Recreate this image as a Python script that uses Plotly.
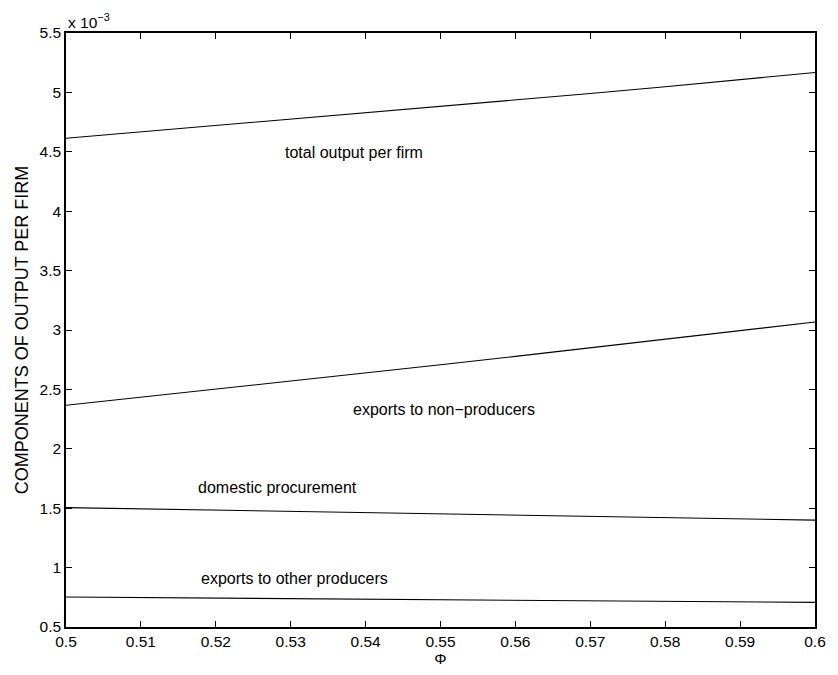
import plotly.graph_objects as go

# Phi values
phi = [0.50, 0.51, 0.52, 0.53, 0.54, 0.55, 0.56, 0.57, 0.58, 0.59, 0.60]

# Components of output per firm (units of 1e-3)
total_output = [4.614, 4.667, 4.720, 4.773, 4.826, 4.880, 4.935, 4.991, 5.048, 5.107, 5.167]
exports_non_producers = [2.366, 2.433, 2.500, 2.568, 2.637, 2.707, 2.778, 2.849, 2.921, 2.994, 3.067]
domestic_procurement = [1.505, 1.495, 1.485, 1.474, 1.464, 1.453, 1.443, 1.432, 1.422, 1.411, 1.400]
exports_other_producers = [0.752, 0.747, 0.743, 0.738, 0.734, 0.729, 0.725, 0.720, 0.716, 0.711, 0.707]

series = [total_output, exports_non_producers, domestic_procurement, exports_other_producers]

# Label texts and positions (data coordinates)
label_texts = ["total output per firm", "exports to non\u2212producers",
               "domestic procurement", "exports to other producers"]
label_x = [0.5385, 0.5505, 0.5283, 0.5305]
label_y = [4.49, 2.33, 1.675, 0.91]

x_ticks = [0.50, 0.51, 0.52, 0.53, 0.54, 0.55, 0.56, 0.57, 0.58, 0.59, 0.60]
x_tick_labels = ["0.5", "0.51", "0.52", "0.53", "0.54", "0.55", "0.56", "0.57", "0.58", "0.59", "0.6"]
y_ticks = [0.5, 1, 1.5, 2, 2.5, 3, 3.5, 4, 4.5, 5, 5.5]
y_tick_labels = ["0.5", "1", "1.5", "2", "2.5", "3", "3.5", "4", "4.5", "5", "5.5"]

FONT = "Liberation Sans, Arial, Helvetica, sans-serif"

fig = go.Figure()
for s in series:
    fig.add_trace(go.Scatter(x=phi, y=s, mode="lines",
                             line=dict(color="black", width=1.1),
                             showlegend=False, hoverinfo="skip"))

for t, xx, yy in zip(label_texts, label_x, label_y):
    fig.add_annotation(x=xx, y=yy, text=t, showarrow=False,
                       font=dict(family=FONT, size=16, color="black"),
                       xanchor="center", yanchor="middle")

fig.add_annotation(xref="paper", yref="paper", x=0, y=1, xanchor="left", yanchor="bottom",
                   text="x 10<sup>\u22123</sup>", showarrow=False, yshift=0,
                   font=dict(family=FONT, size=15.5, color="black"))

axis_common = dict(showline=True, linecolor="black", linewidth=1.5, mirror="ticks",
                   ticks="inside", ticklen=6, tickcolor="black", tickwidth=1,
                   showgrid=False, zeroline=False,
                   tickfont=dict(family=FONT, size=15.5, color="black"))

fig.update_xaxes(range=[0.5, 0.6], tickvals=x_ticks, ticktext=x_tick_labels,
                 title=dict(text="\u03a6", font=dict(family=FONT, size=15.5, color="black"), standoff=2),
                 **axis_common)
fig.update_yaxes(range=[0.5, 5.5], tickvals=y_ticks, ticktext=y_tick_labels,
                 title=dict(text="COMPONENTS OF OUTPUT PER FIRM",
                            font=dict(family=FONT, size=18, color="black"), standoff=6),
                 **axis_common)

# page body has an 8px margin, so the figure is sized to fit the window after that offset
fig.update_layout(width=830, height=667, plot_bgcolor="white", paper_bgcolor="white",
                  margin=dict(l=58, r=17, t=25, b=38))

fig.write_html("out.html")
